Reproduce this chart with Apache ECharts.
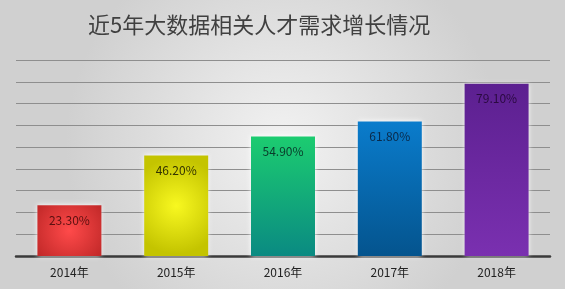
<!DOCTYPE html>
<html><head><meta charset="utf-8">
<script src="https://cdn.jsdelivr.net/npm/echarts@6/dist/echarts.min.js"></script>
<style>html,body{margin:0;padding:0;}#c{width:565px;height:289px;}</style>
</head><body><div id="c"></div>
<script>
const titleText = '近5年大数据相关人才需求增长情况';
const categories = ['2014年','2015年','2016年','2017年','2018年'];
const values = [23.3, 46.2, 54.9, 61.8, 79.1];
const labelTexts = ['23.30%','46.20%','54.90%','61.80%','79.10%'];

function radial(c1, c2){
  return {type:'radial', x:0.5, y:0.5, r:0.75, colorStops:[{offset:0,color:c1},{offset:1,color:c2}]};
}
function linear(c1, c2){
  return {type:'linear', x:0, y:0, x2:0, y2:1, colorStops:[{offset:0,color:c1},{offset:1,color:c2}]};
}
const barColors = [
  radial('#ff4a4a','#c42a2a'),
  radial('#f8f820','#c4c400'),
  linear('#1ccc70','#0a8a82'),
  linear('#0a7ccc','#04548e'),
  linear('#5c2090','#7a30b0')
];
const labelColors = ['#5a1010','#333300','#0a3a2a','#0a2a4a','#2a0a40'];

const chart = echarts.init(document.getElementById('c'));
chart.setOption({
  backgroundColor: {type:'radial', x:0.5, y:0.5, r:0.75, colorStops:[{offset:0,color:'#f2f2f2'},{offset:1,color:'#d0d0d0'}]},
  animation:false,
  title:{text:titleText, left:83, top:9, textStyle:{fontFamily:'Noto Sans CJK SC', fontSize:22, fontWeight:'normal', color:'#404040'}},
  grid:{left:16, right:15, top:60, bottom:33, containLabel:false},
  xAxis:{type:'category', data:categories,
    axisLine:{lineStyle:{color:'#3a3a3a', width:2.5}},
    axisTick:{show:false},
    axisLabel:{color:'#222', fontSize:12, margin:10, fontFamily:'Noto Sans CJK SC'}},
  yAxis:{type:'value', min:0, max:90, interval:10,
    axisLabel:{show:false}, axisLine:{show:false}, axisTick:{show:false},
    splitLine:{lineStyle:{color:'#8e8e8e', width:1}}},
  series:[{
    type:'bar', barWidth:64,
    data: values.map((v,i)=>({value:v,
      itemStyle:{color:barColors[i], shadowColor:'rgba(255,255,255,0.95)', shadowBlur:5},
      label:{formatter:labelTexts[i], color:labelColors[i]}})),
    label:{show:true, position:'insideTop', distance:9, fontSize:12, fontFamily:'Noto Sans CJK SC'}
  }]
});
</script></body></html>
